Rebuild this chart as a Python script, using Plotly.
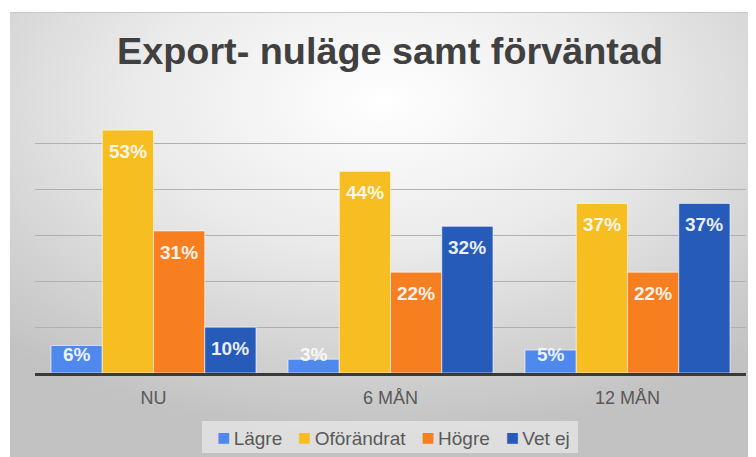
import base64
import plotly.graph_objects as go

categories = ["NU", "6 MÅN", "12 MÅN"]
series_names = ["Lägre", "Oförändrat", "Högre", "Vet ej"]
lagre = [6, 3, 5]
oforandrat = [53, 44, 37]
hogre = [31, 22, 22]
vet_ej = [10, 32, 37]
series_values = [lagre, oforandrat, hogre, vet_ej]
colors = ["#5089EE", "#F7BE22", "#F77F20", "#265BBA"]

FONT = "Liberation Sans"
W, H = 748, 449
L, R, T, B = 27, 10, 90, 84
pw, ph = W - L - R, H - T - B
Y_MAX = 60
BARGAP = 0.135


def paper_x(px):
    return (px - L) / pw


def paper_y(py):
    return (H - B - py) / ph


svg = '''<svg xmlns="http://www.w3.org/2000/svg" width="746" height="445" viewBox="0 0 746 445" preserveAspectRatio="none">
<defs><radialGradient id="g" cx="0.5" cy="0.2" r="0.75" gradientUnits="objectBoundingBox">
<stop offset="0" stop-color="#FFFFFF"/><stop offset="0.45" stop-color="#EAEAEA"/><stop offset="1" stop-color="#C2C2C2"/>
</radialGradient></defs>
<rect x="0" y="0" width="746" height="445" fill="url(#g)"/>
<line x1="0" y1="0.5" x2="746" y2="0.5" stroke="#C8C8C8" stroke-width="1"/>
</svg>'''
src = "data:image/svg+xml;base64," + base64.b64encode(svg.encode()).decode()

fig = go.Figure()
n_series = len(series_names)
bar_w = (1 - BARGAP) / n_series
for j, (name, vals, col) in enumerate(zip(series_names, series_values, colors)):
    fig.add_trace(go.Bar(
        name=name, x=categories, y=vals,
        marker=dict(color=col, line=dict(color="rgba(255,255,255,0.6)", width=1)),
        hoverinfo="skip", showlegend=False,
    ))
    # data labels, inside end (Excel style)
    for i, v in enumerate(vals):
        xc = i - (1 - BARGAP) / 2 + (j + 0.5) * bar_w
        fig.add_annotation(
            x=xc, y=max(v, 8.7), xref="x", yref="y", yshift=-21.5,
            text=f"<b>{v}%</b>", showarrow=False, xanchor="center", yanchor="middle",
            font=dict(family=FONT, size=19, color="rgba(250,250,250,0.95)"),
        )

fig.add_layout_image(dict(
    source=src, xref="paper", yref="paper",
    x=paper_x(2), y=paper_y(4), sizex=paper_x(W) - paper_x(2), sizey=paper_y(4) - paper_y(H),
    xanchor="left", yanchor="top", sizing="stretch", layer="below",
))

# legend box
fig.add_shape(type="rect", xref="paper", yref="paper",
              x0=paper_x(194), x1=paper_x(570), y0=paper_y(445), y1=paper_y(413),
              fillcolor="rgba(245,245,245,0.55)", line=dict(width=0), layer="above")
sep = "\u00a0" * 3
gap = "<span style='font-size:12px'>\u00a0</span>"
legend_text = sep.join(
    f"<span style='color:{c};font-size:22px'>■</span>{gap}{n}" for n, c in zip(series_names, colors)
)
fig.add_annotation(x=paper_x(385), y=paper_y(429), xref="paper", yref="paper",
                   text=legend_text, showarrow=False, xanchor="center", yanchor="middle",
                   font=dict(family=FONT, size=19, color="#595959"))

fig.update_layout(
    width=W, height=H,
    margin=dict(l=L, r=R, t=T, b=B, pad=0),
    paper_bgcolor="white", plot_bgcolor="rgba(0,0,0,0)",
    barmode="group", bargap=BARGAP, bargroupgap=0,
    title=dict(text="<b>Export- nuläge samt förväntad</b>", x=382 / W, xanchor="center",
               y=1 - 42.5 / H, yanchor="middle",
               font=dict(family=FONT, size=37.8, color="#404040")),
    font=dict(family=FONT, color="#595959"),
    showlegend=False,
)
fig.update_xaxes(showline=True, linecolor="#3A3A3A", linewidth=3, ticks="",
                 tickfont=dict(size=18, color="#595959"), showgrid=False,
                 ticklabelstandoff=6)
fig.update_yaxes(range=[0, Y_MAX], dtick=10, showgrid=True, gridcolor="#B0B0B0", gridwidth=1,
                 showticklabels=False, zeroline=False, ticks="")

fig.write_html("out.html")
